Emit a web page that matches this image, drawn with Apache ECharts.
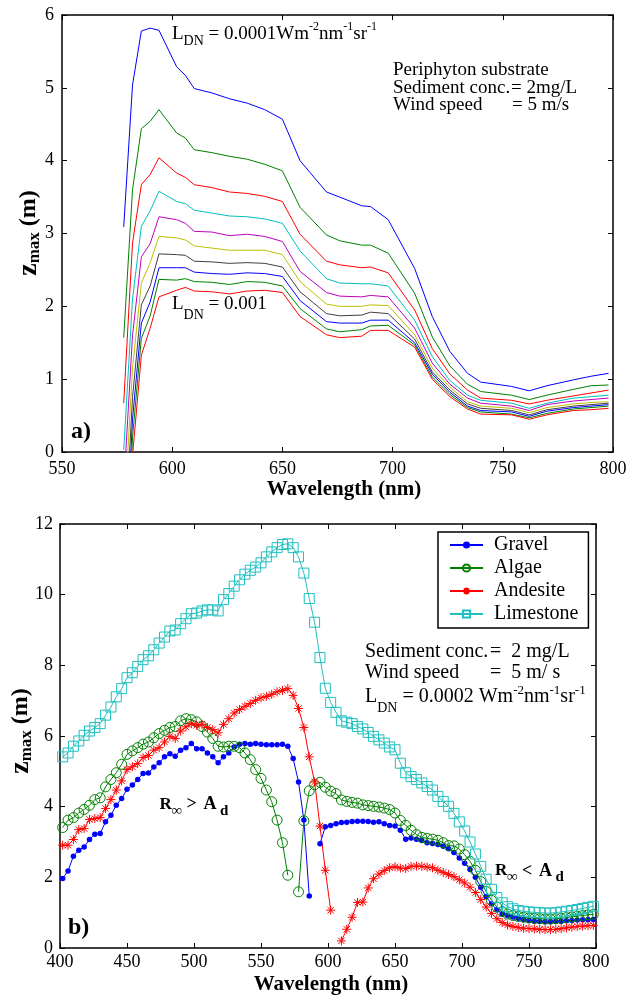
<!DOCTYPE html>
<html>
<head>
<meta charset="utf-8">
<script src="https://cdn.jsdelivr.net/npm/echarts/dist/echarts.min.js"></script>
<style>
  html, body { margin: 0; padding: 0; background: #fff; }
  #chart { width: 638px; height: 998px; }
</style>
</head>
<body>
<div id="chart"></div>
<script>
// ---------- Panel a: z_max vs wavelength for ten L_DN levels (periphyton substrate) ----------
const wlA = [578, 582, 586, 590, 594, 602, 606, 610, 618, 626, 634, 642, 650, 658, 670, 676, 686, 690, 698, 710, 718, 726, 734, 740, 754, 762, 770, 782, 790, 798];
const ldnLevels = ['0.0001', '0.0002', '0.0003', '0.0004', '0.0005', '0.0006', '0.0007', '0.0008', '0.0009', '0.001'];
const zA1  = [3.09, 5.04, 5.78, 5.82, 5.79, 5.29, 5.17, 4.99, 4.93, 4.85, 4.79, 4.70, 4.57, 4.00, 3.57, 3.50, 3.38, 3.37, 3.19, 2.52, 1.86, 1.38, 1.08, 0.96, 0.90, 0.84, 0.91, 0.99, 1.04, 1.08];
const zA2  = [1.57, 3.60, 4.44, 4.54, 4.70, 4.38, 4.31, 4.15, 4.11, 4.06, 4.02, 3.95, 3.86, 3.36, 2.98, 2.90, 2.84, 2.84, 2.73, 2.18, 1.58, 1.18, 0.93, 0.83, 0.78, 0.72, 0.78, 0.86, 0.91, 0.92];
const zA3  = [0.67, 2.87, 3.67, 3.81, 4.04, 3.83, 3.77, 3.67, 3.63, 3.57, 3.55, 3.51, 3.44, 2.99, 2.62, 2.57, 2.53, 2.54, 2.46, 1.95, 1.42, 1.07, 0.85, 0.74, 0.71, 0.66, 0.71, 0.77, 0.81, 0.85];
const zA4  = [0.03, 2.10, 3.10, 3.31, 3.58, 3.44, 3.41, 3.32, 3.28, 3.24, 3.23, 3.20, 3.14, 2.76, 2.38, 2.32, 2.31, 2.31, 2.28, 1.81, 1.31, 0.98, 0.78, 0.71, 0.67, 0.60, 0.67, 0.74, 0.76, 0.78];
const zA5  = [-0.50, 1.60, 2.68, 2.86, 3.23, 3.19, 3.14, 3.03, 3.02, 2.97, 2.99, 2.96, 2.89, 2.48, 2.19, 2.14, 2.13, 2.15, 2.13, 1.70, 1.22, 0.93, 0.74, 0.67, 0.63, 0.57, 0.65, 0.70, 0.72, 0.74];
const zA6  = [-1.00, 1.15, 2.32, 2.60, 2.96, 2.94, 2.91, 2.83, 2.80, 2.77, 2.77, 2.77, 2.71, 2.34, 2.03, 2.00, 2.00, 2.02, 2.01, 1.61, 1.15, 0.89, 0.69, 0.63, 0.60, 0.54, 0.61, 0.66, 0.68, 0.69];
const zA7  = [-1.50, 0.75, 2.02, 2.28, 2.72, 2.71, 2.70, 2.62, 2.61, 2.59, 2.60, 2.59, 2.54, 2.20, 1.90, 1.87, 1.88, 1.92, 1.90, 1.55, 1.10, 0.85, 0.66, 0.60, 0.57, 0.51, 0.58, 0.63, 0.65, 0.67];
const zA8  = [-2.00, 0.45, 1.77, 2.06, 2.53, 2.53, 2.53, 2.47, 2.45, 2.44, 2.46, 2.45, 2.41, 2.08, 1.79, 1.77, 1.77, 1.81, 1.81, 1.50, 1.07, 0.82, 0.63, 0.57, 0.55, 0.49, 0.56, 0.61, 0.63, 0.65];
const zA9  = [-2.50, 0.20, 1.56, 1.87, 2.37, 2.36, 2.38, 2.34, 2.33, 2.30, 2.34, 2.33, 2.28, 1.97, 1.69, 1.65, 1.68, 1.73, 1.74, 1.47, 1.03, 0.79, 0.61, 0.55, 0.52, 0.47, 0.53, 0.59, 0.61, 0.63];
const zA10 = [-3.00, -0.05, 1.33, 1.70, 2.13, 2.22, 2.26, 2.21, 2.20, 2.17, 2.21, 2.22, 2.19, 1.86, 1.61, 1.57, 1.59, 1.67, 1.67, 1.44, 1.00, 0.76, 0.59, 0.52, 0.51, 0.45, 0.51, 0.57, 0.58, 0.60];
const colorsA = ['#0000ff', '#008000', '#ff0000', '#00bfbf', '#bf00bf', '#bfbf00', '#404040', '#0000ff', '#008000', '#ff0000'];
const xTicksA = { min: 550, max: 800, interval: 50 };
const yTicksA = { min: 0, max: 6, interval: 1 };

// ---------- Panel b: z_max vs wavelength for four substrates ----------
const wlB = [402, 406, 410, 414, 418, 422, 426, 430, 434, 438,
             442, 446, 450, 454, 458, 462, 466, 470, 474, 478,
             482, 486, 490, 494, 498, 502, 506, 510, 514, 518,
             522, 526, 530, 534, 538, 542, 546, 550, 554, 558,
             562, 566, 570, 574, 578, 582, 586, 590, 594, 598,
             602, 606, 610, 614, 618, 622, 626, 630, 634, 638,
             642, 646, 650, 654, 658, 662, 666, 670, 674, 678,
             682, 686, 690, 694, 698, 702, 706, 710, 714, 718,
             722, 726, 730, 734, 738, 742, 746, 750, 754, 758,
             762, 766, 770, 774, 778, 782, 786, 790, 794, 798];
const gravel = [1.97, 2.18, 2.60, 2.77, 2.86, 3.07, 3.22, 3.24, 3.57, 3.76,
                4.04, 4.23, 4.49, 4.61, 4.77, 4.94, 4.95, 5.12, 5.24, 5.41,
                5.50, 5.43, 5.60, 5.67, 5.79, 5.64, 5.64, 5.52, 5.41, 5.24,
                5.41, 5.52, 5.69, 5.77, 5.79, 5.77, 5.79, 5.77, 5.75, 5.75,
                5.75, 5.77, 5.71, 5.36, 4.70, 3.62, 1.47, null, 2.95, 3.43,
                3.47, 3.52, 3.55, 3.56, 3.58, 3.59, 3.59, 3.58, 3.56, 3.57,
                3.52, 3.47, 3.45, 3.33, 3.08, 3.11, 3.08, 3.04, 2.98, 2.96,
                2.93, 2.88, 2.81, 2.70, 2.55, 2.40, 2.22, 2.00, 1.72, 1.45,
                1.25, 1.08, 0.97, 0.92, 0.88, 0.84, 0.81, 0.78, 0.76, 0.75,
                0.74, 0.74, 0.75, 0.76, 0.77, 0.78, 0.79, 0.80, 0.80, 0.81];
const algae = [3.41, 3.62, 3.69, 3.82, 3.92, 4.04, 4.20, 4.25, 4.56, 4.77,
               4.96, 5.20, 5.48, 5.58, 5.67, 5.77, 5.83, 5.95, 6.07, 6.16,
               6.24, 6.27, 6.43, 6.49, 6.46, 6.40, 6.27, 6.11, 5.93, 5.71,
               5.69, 5.71, 5.71, 5.67, 5.52, 5.33, 5.05, 4.80, 4.47, 4.14,
               3.62, 2.98, 2.06, null, 1.59, 3.60, 4.45, 4.62, 4.69, 4.55,
               4.44, 4.37, 4.19, 4.15, 4.12, 4.10, 4.05, 4.03, 4.01, 3.99,
               3.96, 3.92, 3.82, 3.61, 3.47, 3.33, 3.21, 3.13, 3.10, 3.08,
               3.05, 2.98, 2.90, 2.89, 2.80, 2.64, 2.45, 2.20, 1.88, 1.60,
               1.35, 1.16, 1.03, 0.96, 0.92, 0.89, 0.87, 0.85, 0.84, 0.83,
               0.82, 0.82, 0.83, 0.84, 0.86, 0.88, 0.90, 0.92, 0.94, 0.95];
const andesite = [2.91, 2.91, 3.07, 3.35, 3.38, 3.64, 3.66, 3.69, 3.95, 4.20,
                  4.47, 4.73, 5.05, 5.13, 5.22, 5.39, 5.45, 5.60, 5.67, 5.83,
                  5.99, 5.93, 6.14, 6.26, 6.35, 6.30, 6.33, 6.24, 6.18, 6.09,
                  6.33, 6.49, 6.65, 6.75, 6.84, 6.92, 7.01, 7.08, 7.12, 7.18,
                  7.25, 7.29, 7.34, 7.15, 6.78, 6.24, 5.41, 4.70, 3.45, 2.20,
                  1.07, null, 0.20, 0.53, 0.87, 1.29, 1.30, 1.70, 1.96, 2.09,
                  2.19, 2.27, 2.30, 2.26, 2.25, 2.31, 2.32, 2.31, 2.29, 2.27,
                  2.20, 2.14, 2.08, 2.02, 1.93, 1.84, 1.72, 1.57, 1.37, 1.16,
                  0.98, 0.83, 0.72, 0.65, 0.61, 0.58, 0.56, 0.55, 0.54, 0.53,
                  0.52, 0.52, 0.53, 0.55, 0.57, 0.59, 0.61, 0.62, 0.63, 0.64];
const limestone = [5.41, 5.52, 5.71, 5.86, 6.02, 6.14, 6.24, 6.35, 6.59, 6.82,
                   7.11, 7.34, 7.65, 7.79, 7.97, 8.16, 8.27, 8.44, 8.63, 8.80,
                   8.97, 9.00, 9.18, 9.32, 9.46, 9.48, 9.54, 9.57, 9.57, 9.54,
                   9.86, 10.03, 10.24, 10.42, 10.58, 10.69, 10.78, 10.90, 11.07, 11.21,
                   11.33, 11.42, 11.44, 11.33, 11.07, 10.61, 9.89, 9.22, 8.22, 7.35,
                   6.95, 6.67, 6.43, 6.39, 6.35, 6.27, 6.20, 6.10, 5.99, 5.89,
                   5.80, 5.69, 5.61, 5.23, 4.96, 4.85, 4.77, 4.67, 4.57, 4.47,
                   4.29, 4.15, 4.01, 3.81, 3.57, 3.31, 3.00, 2.66, 2.31, 1.95,
                   1.66, 1.43, 1.28, 1.17, 1.11, 1.06, 1.04, 1.02, 1.01, 1.00,
                   0.99, 0.99, 1.00, 1.02, 1.04, 1.06, 1.09, 1.12, 1.15, 1.18];
const substrateNames = ['Gravel', 'Algae', 'Andesite', 'Limestone'];
const xTicksB = { min: 400, max: 800, interval: 50 };
const yTicksB = { min: 0, max: 12, interval: 2 };

// ---------- text helpers ----------
const SERIF = '"Liberation Serif", "Times New Roman", serif';
const measureCtx = document.createElement('canvas').getContext('2d');
function textWidth(str, size, bold) {
  measureCtx.font = (bold ? 'bold ' : '') + size + 'px ' + SERIF;
  return measureCtx.measureText(str).width;
}
function textEl(x, y, str, size, bold, extra) {
  return Object.assign({
    type: 'text', x: x, y: y, silent: true, z: 100,
    style: {
      text: str, fontFamily: SERIF, fontSize: size, fontWeight: bold ? 'bold' : 'normal',
      fill: '#000', textAlign: 'left', textVerticalAlign: 'middle', align: 'left', verticalAlign: 'middle'
    }
  }, extra || {});
}
// A run of pieces [text, size, bold, shift]; shift moves a piece below (+) or above (-) the main line.
function textRun(x, y, pieces, rotated) {
  const out = [];
  let pos = 0;
  pieces.forEach(function (p) {
    const str = p[0], size = p[1], bold = p[2], shift = p[3] || 0;
    if (rotated) out.push(textEl(x + shift, y - pos, str, size, bold, { rotation: Math.PI / 2 }));
    else out.push(textEl(x + pos, y + shift, str, size, bold));
    pos += textWidth(str, size, bold);
  });
  return out;
}
function runWidth(pieces) {
  return pieces.reduce(function (s, p) { return s + textWidth(p[0], p[1], p[2]); }, 0);
}
function centered(x, y, str, size, bold) {
  const el = textEl(x, y, str, size, bold);
  el.style.textAlign = el.style.align = 'center';
  return el;
}

// ---------- axes ----------
const axisLineStyle = { color: '#000', width: 1.5 };
function xAxisFor(gridIndex, ticks, top, labelMargin) {
  return {
    type: 'value', gridIndex: gridIndex, position: top ? 'top' : 'bottom',
    min: ticks.min, max: ticks.max, interval: ticks.interval,
    axisLine: { show: true, onZero: false, lineStyle: axisLineStyle },
    axisTick: { show: true, inside: true, length: 5, lineStyle: { color: '#000', width: 1 } },
    axisLabel: { show: !top, margin: labelMargin, fontFamily: SERIF, fontSize: 18, color: '#000' },
    splitLine: { show: false }
  };
}
function yAxisFor(gridIndex, ticks, right, labelMargin) {
  return {
    type: 'value', gridIndex: gridIndex, position: right ? 'right' : 'left',
    min: ticks.min, max: ticks.max, interval: ticks.interval,
    axisLine: { show: true, onZero: false, lineStyle: axisLineStyle },
    axisTick: { show: true, inside: true, length: 5, lineStyle: { color: '#000', width: 1 } },
    axisLabel: { show: !right, margin: labelMargin, fontFamily: SERIF, fontSize: 18, color: '#000' },
    splitLine: { show: false }
  };
}

// ---------- series ----------
const seriesA = [zA1, zA2, zA3, zA4, zA5, zA6, zA7, zA8, zA9, zA10].map(function (vals, i) {
  return {
    name: 'L_DN ' + ldnLevels[i], type: 'line', xAxisIndex: 0, yAxisIndex: 0,
    data: wlA.map(function (w, j) { return [w, vals[j]]; }),
    showSymbol: false, symbol: 'none', clip: true,
    lineStyle: { color: colorsA[i], width: 1 }, itemStyle: { color: colorsA[i] }
  };
});

const asterisk = 'path://M5,0L5,10M0,5L10,5M1.5,1.5L8.5,8.5M1.5,8.5L8.5,1.5';
const substrateStyles = [
  { values: gravel, color: '#0000ff', symbol: 'circle', size: 5.5, fill: '#0000ff', bw: 0 },
  { values: algae, color: '#008000', symbol: 'circle', size: 10, fill: 'rgba(0,0,0,0)', bw: 1 },
  { values: andesite, color: '#ff0000', symbol: asterisk, size: 9, fill: '#ff0000', bw: 1 },
  { values: limestone, color: '#1fbfbf', symbol: 'rect', size: 10, fill: 'rgba(0,0,0,0)', bw: 1 }
];
const seriesB = substrateStyles.map(function (s, i) {
  return {
    name: substrateNames[i], type: 'line', xAxisIndex: 2, yAxisIndex: 2,
    data: wlB.map(function (w, j) { return [w, s.values[j]]; }),
    connectNulls: false, clip: true,
    symbol: s.symbol, symbolSize: s.size, showSymbol: true,
    lineStyle: { color: s.color, width: 1 },
    itemStyle: { color: s.fill, borderColor: s.color, borderWidth: s.bw }
  };
});

// ---------- annotations ----------
const graphics = [];
// y-axis titles (rotated): z_max (m)
function yTitle(xAnchor, yCenter) {
  const pieces = [['z', 28, true, 0], ['max', 17, true, 6], [' (m)', 24, true, 0]];
  const total = runWidth(pieces);
  return textRun(xAnchor, yCenter + total / 2, pieces, true);
}
graphics.push.apply(graphics, yTitle(29, 233));
graphics.push.apply(graphics, yTitle(21, 731));
// x-axis titles
graphics.push(centered(344, 490, 'Wavelength (nm)', 21, true));
graphics.push(centered(331, 985, 'Wavelength (nm)', 21, true));
// panel labels
graphics.push(textEl(71, 432, 'a)', 24, true));
graphics.push(textEl(68, 928, 'b)', 24, true));

// panel a notes
graphics.push.apply(graphics, textRun(172, 34, [
  ['L', 19, false, 0], ['DN', 14, false, 7], [' = 0.0001Wm', 19, false, 0], ['-2', 12, false, -7],
  ['nm', 19, false, 0], ['-1', 12, false, -7], ['sr', 19, false, 0], ['-1', 12, false, -7]
]));
graphics.push.apply(graphics, textRun(172, 304, [
  ['L', 19, false, 0], ['DN', 14, false, 11], [' = 0.001', 19, false, 0]
]));
graphics.push(textEl(393, 70, 'Periphyton substrate', 19, false));
graphics.push(textEl(393, 88, 'Sediment conc.', 19, false));
graphics.push(textEl(511, 88, '= 2mg/L', 19, false));
graphics.push(textEl(393, 105.5, 'Wind speed', 19, false));
graphics.push(textEl(512, 105.5, '= 5 m/s', 19, false));

// panel b notes
graphics.push(textEl(365, 651.5, 'Sediment conc.', 20, false));
graphics.push(textEl(490, 651.5, '=  2 mg/L', 20, false));
graphics.push(textEl(365, 673, 'Wind speed', 20, false));
graphics.push(textEl(490, 673, '=  5 m/ s', 20, false));
graphics.push.apply(graphics, textRun(365, 696.5, [
  ['L', 20, false, 0], ['DN', 14, false, 12], [' = 0.0002 Wm', 20, false, 0], ['-2', 13, false, -6],
  ['nm', 20, false, 0], ['-1', 13, false, -6], ['sr', 20, false, 0], ['-1', 13, false, -6]
]));
// reflectance regimes
function regime(x, y, sign) {
  return [
    textEl(x, y, 'R', 17, true),
    textEl(x + 12, y + 6.5, '\u221E', 15, false),
    textEl(x + 27, y, sign, 18, true),
    textEl(x + 44, y, 'A', 18, true),
    textEl(x + 60.5, y + 6.5, 'd', 15, true)
  ];
}
graphics.push.apply(graphics, regime(159.5, 804.5, '>'));
graphics.push.apply(graphics, regime(495, 871, '<'));

const option = {
  animation: false,
  backgroundColor: '#fff',
  textStyle: { fontFamily: SERIF },
  grid: [
    { left: 62, top: 15, width: 551, height: 437 },
    { left: 60, top: 524, width: 536, height: 424 }
  ],
  xAxis: [
    xAxisFor(0, xTicksA, false, 8), xAxisFor(0, xTicksA, true, 8),
    xAxisFor(1, xTicksB, false, 5), xAxisFor(1, xTicksB, true, 5)
  ],
  yAxis: [
    yAxisFor(0, yTicksA, false, 8), yAxisFor(0, yTicksA, true, 8),
    yAxisFor(1, yTicksB, false, 7), yAxisFor(1, yTicksB, true, 7)
  ],
  legend: {
    data: substrateNames, orient: 'vertical', left: 438, top: 532,
    itemWidth: 33, itemHeight: 9, itemGap: 3, padding: [3, 10, 4, 11],
    borderColor: '#000', borderWidth: 1.5, backgroundColor: '#fff', selectedMode: false,
    textStyle: { fontFamily: SERIF, fontSize: 20, color: '#000', padding: [0, 0, 0, 6] }
  },
  series: seriesA.concat(seriesB),
  graphic: { elements: graphics }
};

const chart = echarts.init(document.getElementById('chart'), null, { renderer: 'canvas' });
chart.setOption(option);
</script>
</body>
</html>
